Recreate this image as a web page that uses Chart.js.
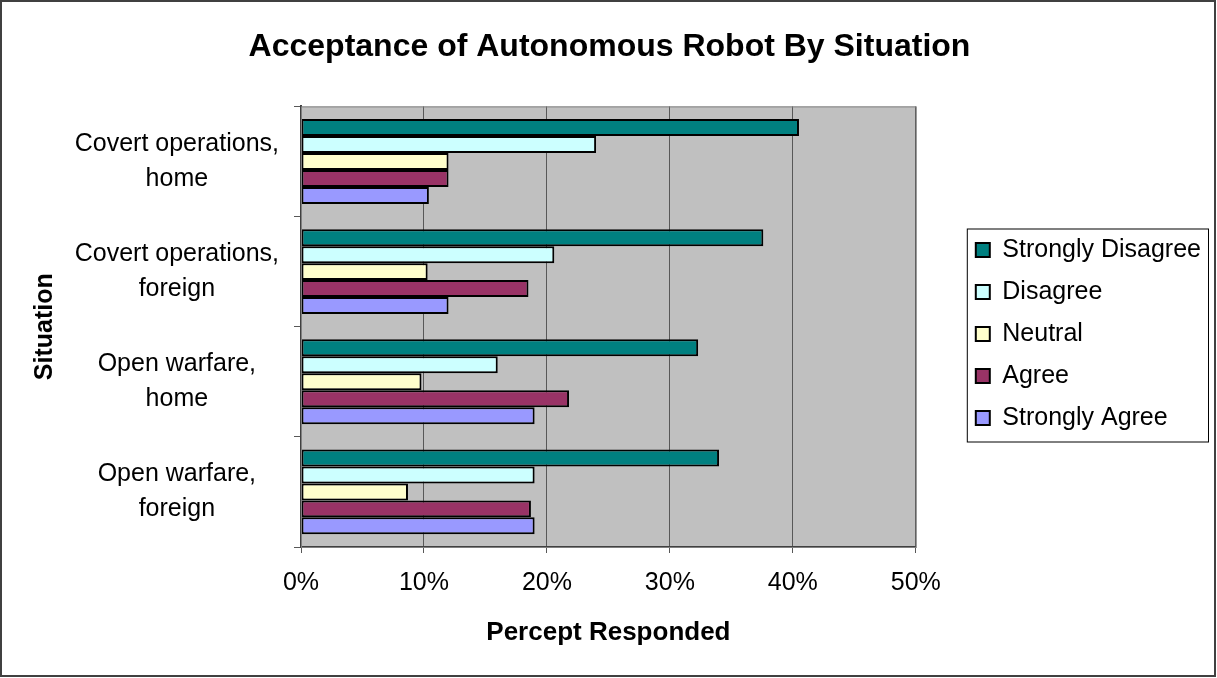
<!DOCTYPE html>
<html>
<head>
<meta charset="utf-8">
<script src="https://cdn.jsdelivr.net/npm/chart.js@4/dist/chart.umd.min.js"></script>
<style>
  html, body { margin: 0; padding: 0; background: #fff; }
  #wrap { position: relative; width: 1217px; height: 678px; }
</style>
</head>
<body>
<div id="wrap"><canvas id="chart"></canvas></div>
<script>
// situations, top to bottom
const situations = [
  ["Covert operations,", "home"],
  ["Covert operations,", "foreign"],
  ["Open warfare,", "home"],
  ["Open warfare,", "foreign"],
];

// percent responded per answer
const stronglyDisagree = [40.5, 37.6, 32.3, 34.0];
const disagree = [24.0, 20.6, 16.0, 19.0];
const neutral = [12.0, 10.3, 9.8, 8.7];
const agree = [12.0, 18.5, 21.8, 18.7];
const stronglyAgree = [10.4, 12.0, 19.0, 19.0];

const xTicks = [0, 10, 20, 30, 40, 50];

const FONT = "'Liberation Sans', Arial, sans-serif";
Chart.defaults.font.family = FONT;
Chart.defaults.color = "#000";

const bar = (label, data, color) => ({
  label,
  data,
  backgroundColor: color,
  borderColor: "#000",
  borderWidth: 2,
  borderSkipped: false,
  barPercentage: 1.0,
  categoryPercentage: 0.77,
});

// grey plot area, outer frame and the legend frame
const excelLook = {
  id: "excelLook",
  beforeDraw(chart) {
    const { ctx, chartArea: a } = chart;
    ctx.save();
    ctx.fillStyle = "#fff";
    ctx.fillRect(0, 0, chart.width, chart.height);
    ctx.fillStyle = "#c0c0c0";
    ctx.fillRect(a.left, a.top, a.right - a.left, a.bottom - a.top);
    ctx.restore();
  },
  afterDraw(chart) {
    const { ctx, chartArea: a } = chart;
    ctx.save();
    ctx.strokeStyle = "#808080";
    ctx.lineWidth = 1;
    ctx.strokeRect(a.left + 0.5, a.top + 0.5, a.right - a.left, a.bottom - a.top);

    ctx.strokeStyle = "#404040";
    ctx.lineWidth = 2;
    ctx.strokeRect(1, 1, chart.width - 3, chart.height - 3);

    const boxes = chart.legend.legendHitBoxes;
    if (boxes && boxes.length) {
      const left = Math.min(...boxes.map((b) => b.left)) - 9;
      const right = Math.max(...boxes.map((b) => b.left + b.width)) + 7;
      const top = boxes[0].top - 9;
      const last = boxes[boxes.length - 1];
      const bottom = last.top + last.height + 11;
      ctx.strokeStyle = "#000";
      ctx.lineWidth = 1;
      ctx.strokeRect(left + 0.5, top + 0.5, right - left, bottom - top);
    }
    ctx.restore();
  },
};

new Chart(document.getElementById("chart"), {
  type: "bar",
  data: {
    labels: situations,
    datasets: [
      bar("Strongly Disagree", stronglyDisagree, "#008080"),
      bar("Disagree", disagree, "#ccffff"),
      bar("Neutral", neutral, "#ffffcc"),
      bar("Agree", agree, "#993366"),
      bar("Strongly Agree", stronglyAgree, "#9999ff"),
    ],
  },
  options: {
    indexAxis: "y",
    responsive: true,
    maintainAspectRatio: false,
    animation: false,
    layout: { padding: { left: 8, right: 6, top: 0, bottom: 10 } },
    plugins: {
      title: {
        display: true,
        text: "Acceptance of Autonomous Robot By Situation",
        font: { size: 32, weight: "bold" },
        color: "#000",
        padding: { top: 28, bottom: 40 },
      },
      legend: {
        position: "right",
        maxWidth: 320,
        labels: {
          boxWidth: 14,
          boxHeight: 14,
          padding: 17,
          font: { size: 25 },
          color: "#000",
        },
      },
      tooltip: { enabled: false },
    },
    scales: {
      x: {
        min: 0,
        max: 50,
        afterBuildTicks: (s) => {
          s.ticks = xTicks.map((v) => ({ value: v }));
        },
        ticks: {
          callback: (v) => v + "%",
          font: { size: 25 },
          padding: 15,
        },
        grid: { color: "#585858", lineWidth: 1, tickLength: 6 },
        border: { color: "#404040", width: 2 },
        title: {
          display: true,
          text: "Percept Responded",
          font: { size: 26, weight: "bold" },
          padding: { top: 0, bottom: 20 },
        },
        afterFit: (s) => {
          s.height = 121;
        },
      },
      y: {
        ticks: {
          font: { size: 25, lineHeight: 1.4 },
          crossAlign: "center",
          padding: 15,
        },
        grid: { offset: true, drawOnChartArea: false, tickLength: 7, color: "#585858" },
        border: { color: "#404040", width: 2 },
        title: {
          display: true,
          text: "Situation",
          font: { size: 25, weight: "bold" },
          padding: { top: 22, bottom: 0 },
        },
        afterFit: (s) => {
          s.width = 293;
        },
      },
      // spacer between plot and legend
      gap: {
        type: "category",
        position: "right",
        grid: { display: false },
        ticks: { display: false },
        border: { display: false },
        afterFit: (s) => {
          s.width = 43;
        },
      },
    },
  },
  plugins: [excelLook],
});
</script>
</body>
</html>
